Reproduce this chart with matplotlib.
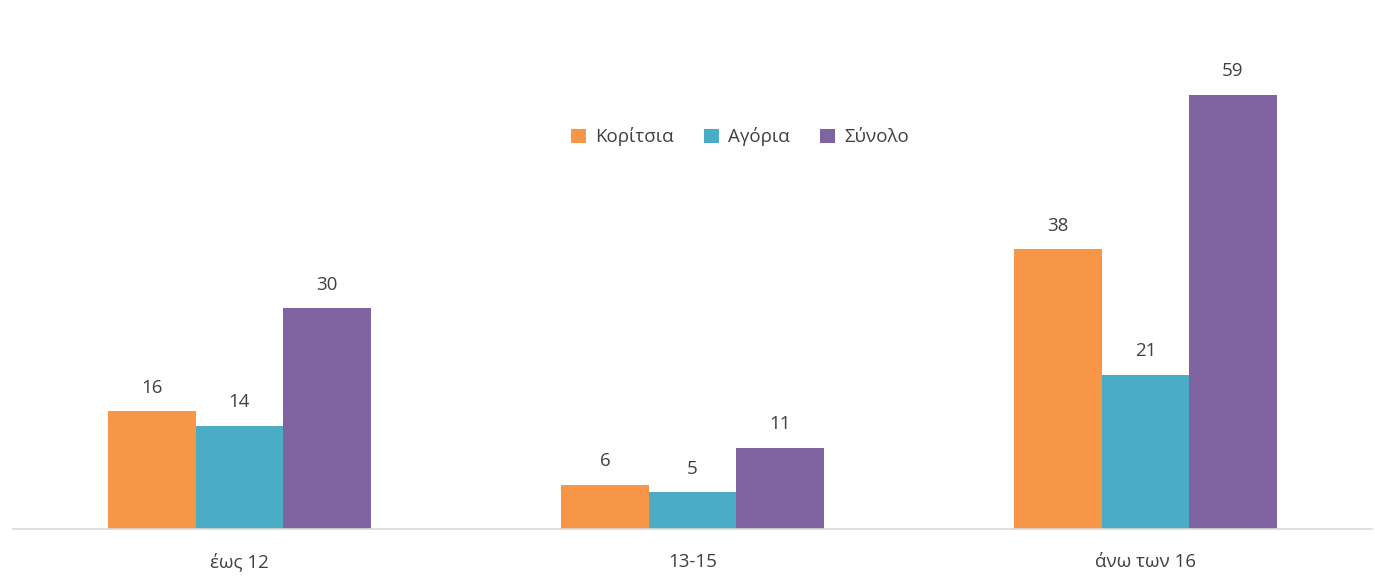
import matplotlib.pyplot as plt
import numpy as np

# data
categories = ['έως 12', '13-15', 'άνω των 16']
series_names = ['Κορίτσια', 'Αγόρια', 'Σύνολο']
girls = [16, 6, 38]
boys = [14, 5, 21]
total = [30, 11, 59]

colors = ['#F79646', '#4BACC6', '#8064A2']

plt.rcParams['font.family'] = ['Open Sans', 'DejaVu Sans']

fig = plt.figure(figsize=(13.75, 5.86), dpi=100)
ax = fig.add_axes([13 / 1375, 57 / 586, 1359 / 1375, 515 / 586])

x = np.arange(len(categories))
bar_width = 0.193
for idx, (name, vals) in enumerate(zip(series_names, [girls, boys, total])):
    bars = ax.bar(x + (idx - 1) * bar_width, vals, bar_width,
                  color=colors[idx], label=name)
    for b, v in zip(bars, vals):
        ax.text(b.get_x() + b.get_width() / 2, v + 2.0, str(v),
                ha='center', va='bottom', fontsize=13.5, color='#404040')

ax.set_xlim(-0.5, 2.5)
ax.set_ylim(0, 70)
ax.set_xticks(x)
ax.set_xticklabels(categories, fontsize=13.5, color='#404040')
ax.tick_params(axis='x', length=0, pad=17)
ax.set_yticks([])
for s in ['top', 'right', 'left']:
    ax.spines[s].set_visible(False)
ax.spines['bottom'].set_color('#D9D9D9')
ax.spines['bottom'].set_linewidth(1.2)

leg = ax.legend(loc='center', bbox_to_anchor=((740 - 13) / 1359, 1 - (137 - 14) / 515),
                bbox_transform=ax.transAxes, ncol=3, frameon=False, fontsize=13.5,
                handlelength=0.8, handleheight=0.8, handletextpad=0.5, columnspacing=1.6)
for t in leg.get_texts():
    t.set_color('#404040')

fig.savefig('out.png', dpi=100, facecolor='white')
